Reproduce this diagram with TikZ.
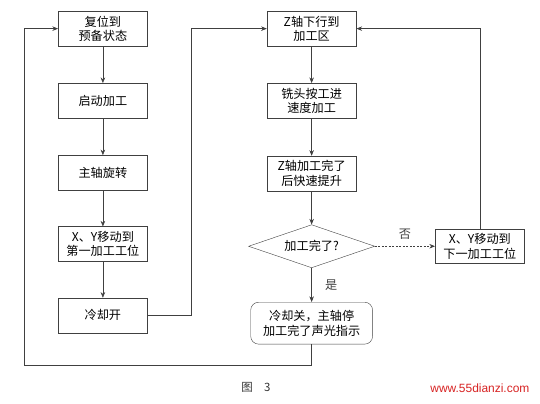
\documentclass[tikz,border=0pt]{standalone}
\usepackage{fontspec}
\setmainfont{Noto Sans CJK SC}
\newfontfamily\webfont{Liberation Sans}
\usetikzlibrary{positioning,arrows.meta,shapes.geometric}

\begin{document}
\begin{tikzpicture}[
  box/.style={draw=black!75, align=center, font=\fontsize{12.2}{14.5}\selectfont, minimum width=3.15cm, minimum height=1.23cm, inner sep=1pt},
  check/.style={draw=black!75, diamond, aspect=2.9, inner sep=1pt, font=\fontsize{12.2}{14.5}\selectfont, minimum width=4.45cm, minimum height=1.52cm},
  roundbox/.style={box, rounded corners=8pt, minimum width=4.3cm, minimum height=1.48cm},
  arr/.style={-{Stealth[length=2mm, width=1.6mm]}, black!75, line width=0.6pt}]
  \useasboundingbox (0,0) rectangle (19.05,-14.25);

  % left column
  \node[box] (reset) at (3.63,-1.01) {复位到\\预备状态};
  \node[box, below=1.3cm of reset] (start) {启动加工};
  \node[box, below=1.3cm of start] (spindle) {主轴旋转};
  \node[box, below=1.27cm of spindle] (movefirst) {X、Y移动到\\第一加工工位};
  \node[box, below=1.27cm of movefirst] (coolon) {冷却开};
  \foreach \a/\b in {reset/start, start/spindle, spindle/movefirst, movefirst/coolon} \draw[arr] (\a) -- (\b);

  % right column
  \node[box, right=4.2cm of reset] (zdown) {Z轴下行到\\加工区};
  \node[box, below=1.3cm of zdown] (mill) {铣头按工进\\速度加工};
  \node[box, below=1.32cm of mill] (zup) {Z轴加工完了\\后快速提升};
  \node[check, below=1.18cm of zup] (done) {加工完了?};
  \node[roundbox, below=1.2cm of done] (finish) {冷却关，主轴停\\加工完了声光指示};
  \node[box, right=2.12cm of done] (movenext) {X、Y移动到\\下一加工工位};
  \foreach \a/\b in {zdown/mill, mill/zup, zup/done} \draw[arr] (\a) -- (\b);
  \draw[arr] (done) -- node[right=0.35cm, font=\fontsize{12.2}{14}\selectfont]{是} (finish);
  \draw[arr, dash pattern=on 2pt off 1.5pt] (done.east) -- node[above=0.12cm, font=\fontsize{12.2}{14}\selectfont]{否} (movenext.west);
  \draw[arr] (movenext.north) |- (zdown.east);

  % loops
  \draw[arr] (coolon.east) -- ++(1.55,0) |- (zdown.west);
  \draw[arr] (finish.south) -- ++(0,-0.74) -| ([xshift=-1.2cm]reset.west) -- (reset.west);

  \node[font=\fontsize{11.5}{13}\selectfont, text=black!80] (caption) at (9.03,-13.65) {图\quad 3};
  \node[font=\webfont\fontsize{12}{13}\selectfont, text={rgb,255:red,215;green,35;blue,35}] (site) at (16.93,-13.68) {www.55dianzi.com};
\end{tikzpicture}
\end{document}
